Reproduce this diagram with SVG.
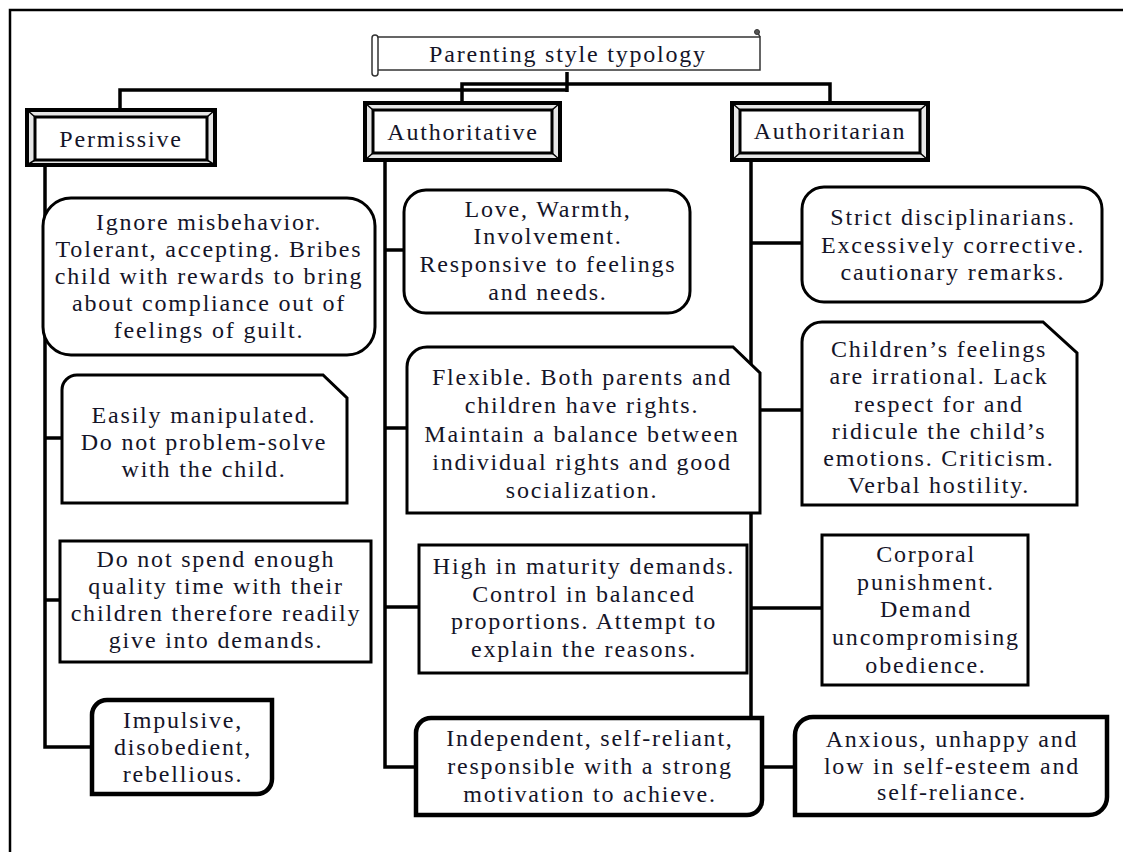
<svg xmlns="http://www.w3.org/2000/svg" width="1123" height="852" viewBox="0 0 1123 852">
<style>
.t{font-family:"Liberation Serif","Times New Roman",serif;font-size:24px;letter-spacing:1.8px;fill:#141428;text-anchor:middle}
.ln{fill:none;stroke:#000;stroke-width:3.5;stroke-linejoin:miter}
.bx{fill:#fff;stroke:#000;stroke-width:3}
.bk{fill:#fff;stroke:#000;stroke-width:4.5}
.bo{fill:#e6e6e6;stroke:#000;stroke-width:4}
.bi{fill:#fff;stroke:#000;stroke-width:3}
.bd{stroke:#000;stroke-width:1.5}
</style>
<rect x="0" y="0" width="1123" height="852" fill="#fff"/>
<rect x="10" y="10" width="1200" height="900" fill="none" stroke="#000" stroke-width="2.5"/>

<g id="connectors">
<path class="ln" d="M120,110 V90 H567"/>
<path class="ln" d="M567,72 V92" stroke-width="6"/>
<path class="ln" d="M462,103 V84 H830 V103"/>
<path class="ln" d="M45,165 V747 H92"/>
<path class="ln" d="M45,438 H62"/>
<path class="ln" d="M45,600 H60"/>
<path class="ln" d="M385,160 V767 H416"/>
<path class="ln" d="M385,250 H404"/>
<path class="ln" d="M385,428 H407"/>
<path class="ln" d="M385,607 H419"/>
<path class="ln" d="M751,160 V717"/>
<path class="ln" d="M751,243 H802"/>
<path class="ln" d="M760,410 H802"/>
<path class="ln" d="M751,608 H822"/>
<path class="ln" d="M762,767 H795"/>
</g>

<g id="title">
<rect x="376" y="37" width="384" height="33" fill="#fff" stroke="#333" stroke-width="1.5"/>
<rect x="372" y="35" width="6" height="41" rx="3" fill="#fff" stroke="#333" stroke-width="1.5"/>
<path d="M757,31 L760,37" stroke="#333" stroke-width="1.5"/>
<circle cx="757" cy="32" r="2.5" fill="#555" stroke="#333" stroke-width="1"/>
<text class="t" x="568" y="62">Parenting style typology</text>
</g>

<g id="permissive">
<rect class="bo" x="27" y="110" width="188" height="55"/>
<path class="bd" d="M27,110 L35,117 M215,110 L207,117 M27,165 L35,160 M215,165 L207,160"/>
<rect class="bi" x="35" y="117" width="172" height="43"/>
<text class="t" x="121" y="147">Permissive</text>
</g>

<g id="authoritative">
<rect class="bo" x="365" y="103" width="195" height="57"/>
<path class="bd" d="M365,103 L373,110 M560,103 L552,110 M365,160 L373,153 M560,160 L552,153"/>
<rect class="bi" x="373" y="110" width="179" height="43"/>
<text class="t" x="463" y="140">Authoritative</text>
</g>

<g id="authoritarian">
<rect class="bo" x="732" y="103" width="196" height="57"/>
<path class="bd" d="M732,103 L740,110 M928,103 L920,110 M732,160 L740,153 M928,160 L920,153"/>
<rect class="bi" x="740" y="110" width="180" height="43"/>
<text class="t" x="830" y="139">Authoritarian</text>
</g>

<g id="p1">
<rect class="bx" x="43" y="198" width="332" height="157" rx="28"/>
<text class="t" x="209" y="230">Ignore misbehavior.</text>
<text class="t" x="209" y="257">Tolerant, accepting. Bribes</text>
<text class="t" x="209" y="284">child with rewards to bring</text>
<text class="t" x="209" y="311">about compliance out of</text>
<text class="t" x="209" y="338">feelings of guilt.</text>
</g>

<g id="p2">
<path class="bx" d="M62,390 A15,15 0 0 1 77,375 H323 L347,398 V503 H62 Z"/>
<text class="t" x="204" y="423">Easily manipulated.</text>
<text class="t" x="204" y="450">Do not problem-solve</text>
<text class="t" x="204" y="477">with the child.</text>
</g>

<g id="p3">
<rect class="bx" x="60" y="541" width="311" height="121"/>
<text class="t" x="216" y="567">Do not spend enough</text>
<text class="t" x="216" y="594">quality time with their</text>
<text class="t" x="216" y="621">children therefore readily</text>
<text class="t" x="216" y="648">give into demands.</text>
</g>

<g id="p4">
<path class="bk" d="M92,715 A15,15 0 0 1 107,700 H272 V779 A15,15 0 0 1 257,794 H92 Z"/>
<text class="t" x="183" y="728">Impulsive,</text>
<text class="t" x="183" y="755">disobedient,</text>
<text class="t" x="183" y="782">rebellious.</text>
</g>

<g id="a1">
<rect class="bx" x="404" y="190" width="286" height="123" rx="22"/>
<text class="t" x="548" y="217">Love, Warmth,</text>
<text class="t" x="548" y="244">Involvement.</text>
<text class="t" x="548" y="272">Responsive to feelings</text>
<text class="t" x="548" y="300">and needs.</text>
</g>

<g id="a2">
<path class="bx" d="M407,367 A20,20 0 0 1 427,347 H733 L760,373 V513 H407 Z"/>
<text class="t" x="582" y="385">Flexible. Both parents and</text>
<text class="t" x="582" y="413">children have rights.</text>
<text class="t" x="582" y="442">Maintain a balance between</text>
<text class="t" x="582" y="470">individual rights and good</text>
<text class="t" x="582" y="498">socialization.</text>
</g>

<g id="a3">
<rect class="bx" x="419" y="545" width="328" height="128"/>
<text class="t" x="584" y="574">High in maturity demands.</text>
<text class="t" x="584" y="602">Control in balanced</text>
<text class="t" x="584" y="629">proportions. Attempt to</text>
<text class="t" x="584" y="657">explain the reasons.</text>
</g>

<g id="a4">
<path class="bk" d="M416,733 A15,15 0 0 1 431,718 H762 V800 A15,15 0 0 1 747,815 H416 Z"/>
<text class="t" x="590" y="746">Independent, self-reliant,</text>
<text class="t" x="590" y="774">responsible with a strong</text>
<text class="t" x="590" y="802">motivation to achieve.</text>
</g>

<g id="r1">
<rect class="bx" x="802" y="187" width="300" height="115" rx="22"/>
<text class="t" x="953" y="225">Strict disciplinarians.</text>
<text class="t" x="953" y="253">Excessively corrective.</text>
<text class="t" x="953" y="280">cautionary remarks.</text>
</g>

<g id="r2">
<path class="bx" d="M802,342 A20,20 0 0 1 822,322 H1043 L1077,353 V505 H802 Z"/>
<text class="t" x="939" y="357">Children’s feelings</text>
<text class="t" x="939" y="384">are irrational. Lack</text>
<text class="t" x="939" y="412">respect for and</text>
<text class="t" x="939" y="439">ridicule the child’s</text>
<text class="t" x="939" y="466">emotions. Criticism.</text>
<text class="t" x="939" y="493">Verbal hostility.</text>
</g>

<g id="r3">
<rect class="bx" x="822" y="535" width="206" height="150"/>
<text class="t" x="926" y="562">Corporal</text>
<text class="t" x="926" y="590">punishment.</text>
<text class="t" x="926" y="617">Demand</text>
<text class="t" x="926" y="645">uncompromising</text>
<text class="t" x="926" y="673">obedience.</text>
</g>

<g id="r4">
<path class="bk" d="M795,735 A18,18 0 0 1 813,717 H1107 V797 A18,18 0 0 1 1089,815 H795 Z"/>
<text class="t" x="952" y="747">Anxious, unhappy and</text>
<text class="t" x="952" y="774">low in self-esteem and</text>
<text class="t" x="952" y="800">self-reliance.</text>
</g>
</svg>
